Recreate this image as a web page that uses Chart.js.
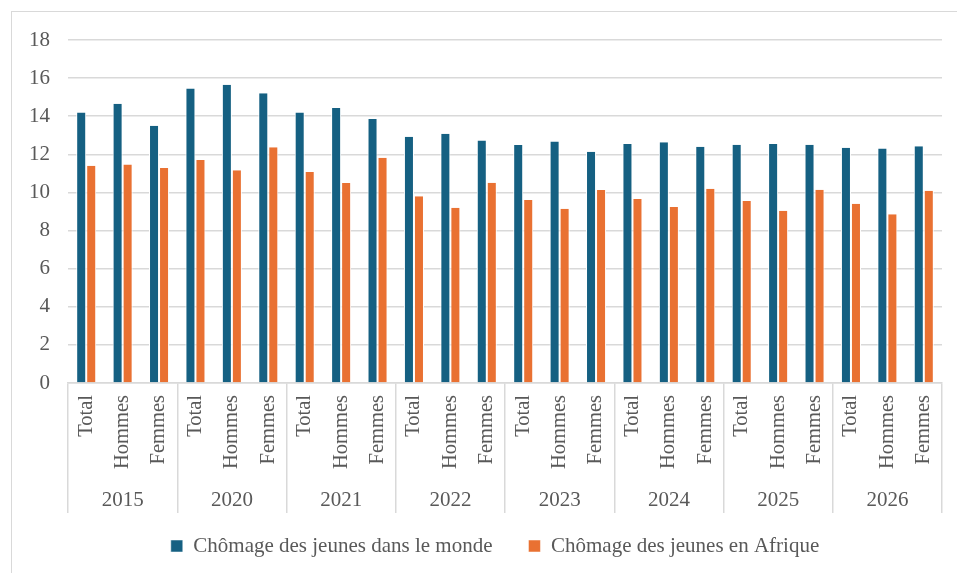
<!DOCTYPE html>
<html lang="fr">
<head>
<meta charset="utf-8">
<title>Chômage des jeunes</title>
<script src="https://cdn.jsdelivr.net/npm/chart.js@4/dist/chart.umd.min.js"></script>
<style>
  html, body { margin: 0; padding: 0; background: #ffffff; overflow: hidden; }
  #wrap { position: relative; width: 957px; height: 573px; }
  #frame { position: absolute; left: 11px; top: 11px; width: 1000px; height: 600px;
           border: 1px solid #d9d9d9; box-sizing: border-box; }
  #chart { position: absolute; left: 0; top: 0; }
</style>
</head>
<body>
<div id="wrap">
  <div id="frame"></div>
  <canvas id="chart" width="957" height="573"></canvas>
</div>
<script>
// Années et sous-catégories de l'axe horizontal
const years = ['2015', '2020', '2021', '2022', '2023', '2024', '2025', '2026'];
const groups = ['Total', 'Hommes', 'Femmes'];

// Taux de chômage des jeunes (%), dans l'ordre Total / Hommes / Femmes pour chaque année
const worldRates = [
  14.2, 14.65, 13.5,
  15.45, 15.65, 15.2,
  14.2, 14.43, 13.85,
  12.92, 13.08, 12.73,
  12.49, 12.68, 12.14,
  12.54, 12.64, 12.4,
  12.5, 12.54, 12.5,
  12.35, 12.3, 12.42
];
const africaRates = [
  11.4, 11.47, 11.28,
  11.7, 11.16, 12.37,
  11.07, 10.49, 11.82,
  9.8, 9.2, 10.51,
  9.6, 9.15, 10.13,
  9.65, 9.23, 10.19,
  9.55, 9.04, 10.14,
  9.41, 8.85, 10.09
];

const seriesNames = ['Chômage des jeunes dans le monde', 'Chômage des jeunes en Afrique'];
const yTicks = { min: 0, max: 18, step: 2 };

// Une étiquette par barre : Total, Hommes, Femmes répétés pour chaque année
const subLabels = years.flatMap(() => groups);

const SERIF = "'Liberation Serif', 'Times New Roman', serif";
const GREY_TEXT = '#595959';
const GREY_LINE = '#d9d9d9';

Chart.defaults.color = GREY_TEXT;
Chart.defaults.font.family = SERIF;

const barBorder = { left: 1, right: 1, top: 0, bottom: 0 };

new Chart(document.getElementById('chart'), {
  type: 'bar',
  data: {
    labels: subLabels,
    datasets: [
      {
        label: seriesNames[0],
        data: worldRates,
        backgroundColor: '#156082',
        borderColor: '#ffffff',
        borderWidth: barBorder
      },
      {
        label: seriesNames[1],
        data: africaRates,
        backgroundColor: '#E97132',
        borderColor: '#ffffff',
        borderWidth: barBorder
      }
    ]
  },
  options: {
    responsive: false,
    animation: false,
    events: [],
    layout: { padding: { left: 48, right: 15, top: 40, bottom: 6.5 } },
    categoryPercentage: 0.55,
    barPercentage: 1.0,
    plugins: {
      tooltip: { enabled: false },
      legend: {
        position: 'bottom',
        weight: 1000,
        labels: {
          boxWidth: 12,
          boxHeight: 12,
          padding: 36,
          color: GREY_TEXT,
          font: { family: SERIF, size: 21 }
        }
      }
    },
    scales: {
      x: {
        type: 'category',
        position: 'bottom',
        weight: 0,
        offset: true,
        grid: {
          offset: true,
          drawOnChartArea: false,
          drawTicks: true,
          tickLength: 130,
          lineWidth: 1.5,
          // séparateurs entre les années uniquement
          color: (c) => (c.index === undefined || c.index % 3 === 0) ? GREY_LINE : 'rgba(0,0,0,0)'
        },
        border: { display: true, color: GREY_LINE, width: 1.5 },
        ticks: {
          autoSkip: false,
          minRotation: 90,
          maxRotation: 90,
          padding: -118,
          color: GREY_TEXT,
          font: { family: SERIF, size: 20.5 }
        },
        afterFit: (scale) => { scale.height = 90; }
      },
      x2: {
        type: 'category',
        position: 'bottom',
        weight: 1,
        labels: years,
        offset: true,
        grid: { display: false },
        border: { display: false },
        ticks: {
          autoSkip: false,
          maxRotation: 0,
          minRotation: 0,
          mirror: true,
          padding: -40,
          color: GREY_TEXT,
          font: { family: SERIF, size: 21 }
        },
        afterFit: (scale) => { scale.height = 26.5; }
      },
      y: {
        min: yTicks.min,
        max: yTicks.max,
        border: { display: false },
        grid: { color: GREY_LINE, lineWidth: 1.5, drawTicks: false },
        ticks: {
          stepSize: yTicks.step,
          mirror: true,
          crossAlign: 'far',
          padding: -39,
          color: GREY_TEXT,
          font: { family: SERIF, size: 21 }
        },
        afterFit: (scale) => { scale.width = 20; }
      }
    }
  }
});
</script>
</body>
</html>
